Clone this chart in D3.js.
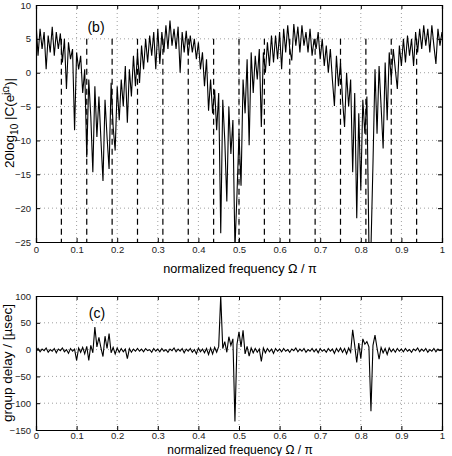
<!DOCTYPE html>
<html>
<head>
<meta charset="utf-8">
<script src="https://cdn.jsdelivr.net/npm/d3@7"></script>
<style>
  body { margin: 0; background: #fff; }
  text { font-family: "Liberation Sans", Arial, sans-serif; }
</style>
</head>
<body>
<div id="chart"></div>
<script>
// magnitude response in dB, uniform samples over 0..1 (normalized frequency)
var magDb = [
  7.5, 2.5, 6.5, 3.5, 6.0, 0.5, 5.5, 3.0, 6.8, 2.5,
  6.0, 3.5, 5.8, 1.5, 5.0, -2.4, 4.5, 2.0, 3.5, -8.5,
  3.0, 0.5, 2.5, -3.0, 0.5, -12.5, -1.0, -6.5, -14.7, -2.0,
  -9.5, -3.5, -10.0, -16.0, -4.0, -9.5, -14.2, -1.5, -8.0, -11.5,
  -2.0, -7.0, -1.0, -5.0, 1.0, -7.4, 0.5, -3.5, 2.5, -2.0,
  3.0, -1.5, 4.0, 0.5, 5.0, 1.5, 5.5, 2.5, 6.0, 0.5,
  6.5, 1.3, 6.0, 3.0, 7.0, 3.5, 7.7, 4.0, 6.5, 3.5,
  6.8, 0.0, 6.0, 3.0, 6.2, 2.5, 5.5, 3.0, 5.0, 2.0,
  4.5, 0.5, 3.0, -2.0, 2.0, -5.6, -1.0, -6.0, -2.5, -8.5,
  -3.0, -23.7, -4.0, -10.0, -19.0, -5.0, -12.0, -7.0, -26.0, -18.0,
  -9.0, -16.7, -1.0, -6.0, 2.0, -10.7, 3.0, -3.0, 2.5, -1.0,
  3.5, -8.0, 3.0, 0.0, 4.5, 1.0, 5.5, 1.5, 5.5, 2.0,
  6.0, 0.5, 6.5, 3.0, 7.0, 3.5, 1.8, 7.2, 4.0, 6.8,
  3.0, 7.0, 4.0, 6.0, 3.0, 6.5, 2.5, 5.0, 3.5, 6.0,
  2.0, 5.0, 1.0, 4.0, 0.0, 3.5, -1.0, -4.9, 2.5, -2.0,
  1.5, -4.0, -8.0, 0.0, -5.0, -1.0, -14.7, -3.0, -21.5, -6.0,
  -17.4, -4.0, -9.0, -3.5, -25.5, -26.0, -13.4, 0.5, -9.0, 1.0,
  -5.0, -11.2, 1.5, -7.0, 3.0, -1.0, 3.5, 0.5, -2.4, 4.0,
  1.0, 5.0, 1.5, 5.5, 2.5, 5.0, 1.0, 6.0, 3.0, 6.5,
  3.5, 7.0, 4.0, 6.5, 3.0, 7.0, 4.0, 1.3, 6.5, 4.0,
  6.0
];

// group delay in microseconds, same frequency grid
var groupDelay = [
  -3, 2, -4, 1, -2, 3, -5, 0, -3, 2,
  -6, 1, -2, 3, -4, 0, -7, 2, -3, 1,
  -20, 3, -5, 4, -8, 6, -20, 8, -6, 42,
  5, 23, 3, -13, 25, 2, 30, -6, 4, -8,
  3, -5, 2, -4, 1, -17, 2, -5, 1, -3,
  2, -3, 1, -4, 2, -2, 0, -5, 2, -3,
  1, -4, 2, -3, 0, -5, 1, -2, 3, -4,
  1, -3, 2, -6, 1, -3, 2, -5, 0, -8,
  3, -4, 1, -6, 2, -9, 3, -8, 4, -5,
  6, 100, 2, 15, -5, 24, 8, 20, -134, 10,
  33, 5, 36, -8, 6, -12, 3, -6, 2, -5,
  1, -22, 3, -6, 2, -4, 1, -7, 2, -3,
  1, -4, 2, -3, 0, -5, 1, -2, 3, -4,
  1, -3, 2, -5, 0, -3, 2, -4, 1, -6,
  2, -3, 0, -5, 2, -3, 1, -7, 2, -4,
  3, -5, 2, -8, 3, -5, 37, 8, -24, 12,
  -17, 20, 10, 15, 5, -115, 8, 27, 3, -18,
  4, -6, 2, -9, 3, -4, 1, -5, 2, -3,
  1, -4, 2, -3, 0, -5, 1, -2, 3, -4,
  1, -3, 2, -5, 0, -3, 2, -4, 1, -2,
  0
];

// dashed marker frequencies (k/16)
var markerFreqs = [0.0625, 0.125, 0.1875, 0.25, 0.3125, 0.375, 0.4375, 0.5,
                   0.5625, 0.625, 0.6875, 0.75, 0.8125, 0.875, 0.9375];

var xTicks = [0, 0.1, 0.2, 0.3, 0.4, 0.5, 0.6, 0.7, 0.8, 0.9, 1];
var magTicks = [-25, -20, -15, -10, -5, 0, 5, 10];
var delayTicks = [-150, -100, -50, 0, 50, 100];

var W = 452, H = 456;
var svg = d3.select("#chart")
  .append("svg")
    .attr("width", W)
    .attr("height", H);

var x = d3.scaleLinear().domain([0, 1]).range([36, 442]);

function drawPanel(opts) {
  var y = d3.scaleLinear().domain(opts.yDomain).range([opts.bottom, opts.top]);
  var g = svg.append("g");

  // dotted grid
  g.selectAll(".gx").data(xTicks.slice(1, -1)).enter().append("line")
    .attr("x1", function(d) { return x(d); }).attr("x2", function(d) { return x(d); })
    .attr("y1", opts.top).attr("y2", opts.bottom)
    .attr("stroke", "#888").attr("stroke-width", 0.8).attr("stroke-dasharray", "1,3");
  g.selectAll(".gy").data(opts.yTicks.slice(1, -1)).enter().append("line")
    .attr("x1", x(0)).attr("x2", x(1))
    .attr("y1", function(d) { return y(d); }).attr("y2", function(d) { return y(d); })
    .attr("stroke", "#888").attr("stroke-width", 0.8).attr("stroke-dasharray", "1,3");

  if (opts.markers) {
    g.selectAll(".mk").data(opts.markers).enter().append("line")
      .attr("x1", function(d) { return x(d); }).attr("x2", function(d) { return x(d); })
      .attr("y1", y(opts.markerTop)).attr("y2", opts.bottom)
      .attr("stroke", "#000").attr("stroke-width", 1.2).attr("stroke-dasharray", "6,4");
  }

  var n = opts.values.length;
  var line = d3.line()
    .x(function(d, i) { return x(i / (n - 1)); })
    .y(function(d) { return y(d); });

  g.append("clipPath").attr("id", opts.id + "-clip")
    .append("rect").attr("x", x(0)).attr("y", opts.top)
    .attr("width", x(1) - x(0)).attr("height", opts.bottom - opts.top);

  g.append("path")
    .datum(opts.values)
    .attr("clip-path", "url(#" + opts.id + "-clip)")
    .attr("fill", "none")
    .attr("stroke", "#000")
    .attr("stroke-width", 1.1)
    .attr("d", line);

  // axes with inward ticks (box style)
  var fmt = function(d) { return d3.format("")(d).replace("-", "\u2212"); };
  var axB = g.append("g").attr("transform", "translate(0," + opts.bottom + ")")
    .call(d3.axisBottom(x).tickValues(xTicks).tickSize(-4).tickPadding(opts.xPad).tickFormat(function(d) { return d === 0 || d === 1 ? d : d3.format(".1f")(d); }));
  var axT = g.append("g").attr("transform", "translate(0," + opts.top + ")")
    .call(d3.axisTop(x).tickValues(xTicks).tickSize(-4).tickFormat(""));
  var axL = g.append("g").attr("transform", "translate(" + x(0) + ",0)")
    .call(d3.axisLeft(y).tickValues(opts.yTicks).tickSize(-4).tickPadding(5).tickFormat(fmt));
  var axR = g.append("g").attr("transform", "translate(" + x(1) + ",0)")
    .call(d3.axisRight(y).tickValues(opts.yTicks).tickSize(-4).tickFormat(""));
  [axB, axT, axL, axR].forEach(function(a) {
    a.select(".domain").attr("stroke", "#000").attr("stroke-width", 1.2);
    a.selectAll("text").attr("font-size", 9.5).attr("fill", "#222")
      .attr("font-family", "Liberation Sans, Arial, sans-serif");
  });

  g.append("text")
    .attr("x", opts.tagX).attr("y", opts.tagY)
    .attr("text-anchor", "middle").attr("font-size", 14)
    .text(opts.tag);

  g.append("text")
    .attr("x", 240).attr("y", opts.titleY)
    .attr("text-anchor", "middle").attr("font-size", opts.titleSize)
    .text("normalized frequency \u03A9 / \u03C0");

  return { y: y, g: g };
}

var magPanel = drawPanel({
  id: "mag", values: magDb, yDomain: [-25, 10], top: 5, bottom: 242,
  yTicks: magTicks, markers: markerFreqs, markerTop: 5, xPad: 4,
  tag: "(b)", tagX: 96, tagY: 32, titleY: 273, titleSize: 12.7
});

// y label of the top panel: 20log10 |C(e^jΩ)|
var ly = magPanel.g.append("text")
  .attr("transform", "translate(14,123) rotate(-90)")
  .attr("text-anchor", "middle").attr("font-size", 13.5);
ly.append("tspan").text("20log");
ly.append("tspan").attr("font-size", 10).attr("dy", 4).text("10");
ly.append("tspan").attr("dy", -4).text(" |C(e");
ly.append("tspan").attr("font-size", 9).attr("dy", -5).text("j\u03A9");
ly.append("tspan").attr("dy", 5).text(")|");

var delayPanel = drawPanel({
  id: "gd", values: groupDelay, yDomain: [-150, 100], top: 296, bottom: 430,
  yTicks: delayTicks, markers: null, xPad: 2,
  tag: "(c)", tagX: 97, tagY: 318, titleY: 453.5, titleSize: 12
});

delayPanel.g.append("text")
  .attr("transform", "translate(12,363) rotate(-90)")
  .attr("text-anchor", "middle").attr("font-size", 13.5)
  .text("group delay / [\u00B5sec]");
</script>
</body>
</html>
